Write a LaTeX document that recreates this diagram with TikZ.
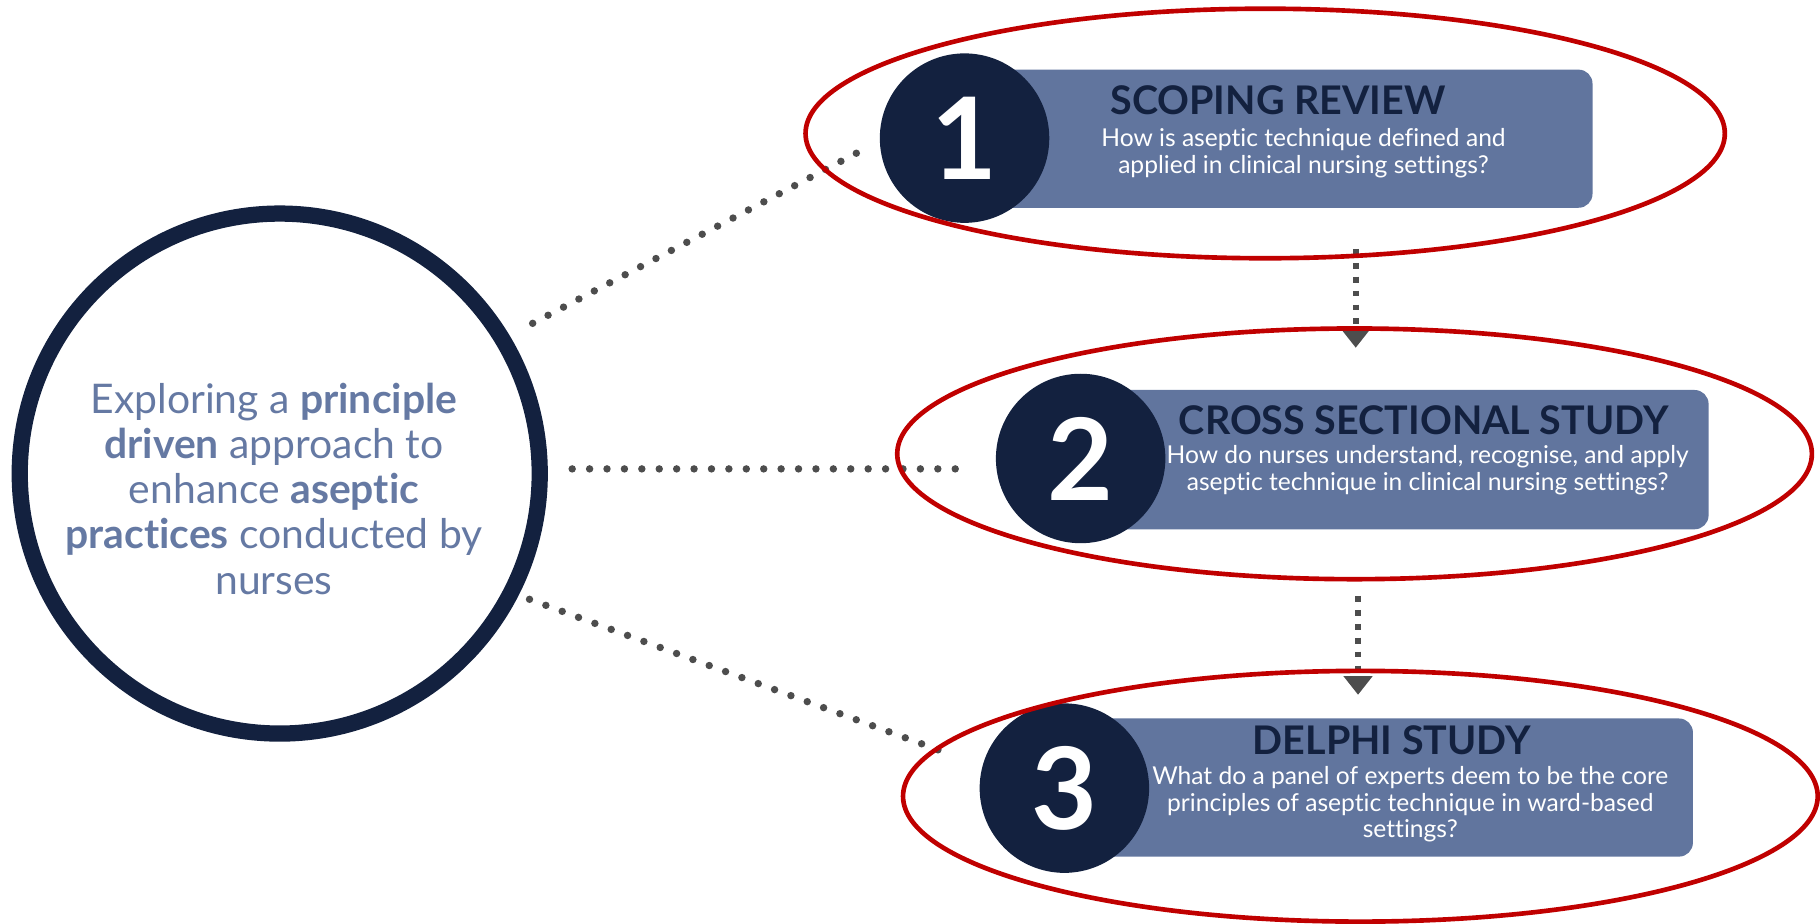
\documentclass[tikz,border=0pt]{standalone}
\usepackage{fontspec}
\setmainfont{Lato}[Ligatures=NoCommon]
\usetikzlibrary{arrows.meta}
\definecolor{navy}{HTML}{13213F}
\definecolor{slate}{HTML}{61759E}
\definecolor{softblue}{HTML}{6579A3}
\definecolor{ringred}{HTML}{C00000}
\definecolor{dotgray}{HTML}{4D4D4D}
\begin{document}
\begin{tikzpicture}[x=0.5pt,y=-0.5pt,
  numcirc/.style={circle, fill=navy, minimum size=73pt, inner sep=0pt, text=white, font=\bfseries\fontsize{49}{49}\selectfont},
  stepbox/.style={rounded corners=6pt, fill=slate, minimum width=270.5pt, minimum height=59.5pt, inner sep=0pt},
  title/.style={text=navy, font=\bfseries\fontsize{17}{19}\selectfont, inner sep=0pt},
  sub/.style={text=white, align=center, font=\fontsize{10.6}{11.5}\selectfont, inner sep=0pt},
  dotline/.style={dotgray, line width=3.2pt, line cap=round, dash pattern=on 0pt off 7.5pt},
  flow/.style={dotgray, line width=2.5pt, dash pattern=on 2.5pt off 3.5pt, -{Triangle[width=12pt,length=8pt]}},
  redring/.style={ringred, line width=2pt}
]
\useasboundingbox (0,0) rectangle (1568,796);

\node[circle, draw=navy, line width=7pt, minimum size=224pt, inner sep=0pt] (main) at (241,408) {};
\node[text=softblue, align=center, inner sep=0pt, font=\fontsize{17.6}{19.5}\selectfont] (maintext) at (236,421)
  {Exploring a \textbf{principle}\\ \textbf{driven} approach to\\ enhance \textbf{aseptic}\\ \textbf{practices} conducted by\\ nurses};

\node[stepbox] (b1) at (1101.5,119.5) {};
\node[stepbox, minimum height=60pt] (b2) at (1201.5,396) {};
\node[stepbox] (b3) at (1188,678.5) {};

\node[numcirc] (n1) at (831,119) {1};
\node[numcirc] (n2) at (931,395) {2};
\node[numcirc] (n3) at (917,679) {3};

\node[title] (t1) at (1101,86) {SCOPING REVIEW};
\node[sub] (s1) at (1123,132) {How is aseptic technique defined and\\applied in clinical nursing settings?};
\node[title] (t2) at (1226.5,362) {CROSS SECTIONAL STUDY};
\node[sub] (s2) at (1230,405) {How do nurses understand, recognise, and apply\\aseptic technique in clinical nursing settings?};
\node[title] (t3) at (1199,638) {DELPHI STUDY};
\node[sub] (s3) at (1215,693) {What do a panel of experts deem to be the core\\principles of aseptic technique in ward-based\\settings?};

\draw[dotline, shorten <=11.25pt, shorten >=5pt] (main.31.9) -- (n1.182.8);
\draw[dotline, shorten <=10.5pt, shorten >=16.5pt] (main.1.2) -- (main.1.2 -| n2.west);
\draw[dotline, shorten <=5pt, shorten >=13.5pt] (main.-27) -- (n3.165);

\coordinate (ax1) at (1168,0);
\coordinate (ax2) at (1170,0);
\draw[flow, shorten <=17.5pt, shorten >=18pt] (b1.south -| ax1) -- (b2.north -| ax1);
\draw[flow, shorten <=28.5pt, shorten >=10pt] (b2.south -| ax2) -- (b3.north -| ax2);

\draw[redring] (1090,115) ellipse [x radius=198pt, y radius=53.75pt];
\draw[redring] (1167,391) ellipse [x radius=197pt, y radius=54pt];
\draw[redring] (1172,686) ellipse [x radius=197pt, y radius=54pt];
\end{tikzpicture}
\end{document}
